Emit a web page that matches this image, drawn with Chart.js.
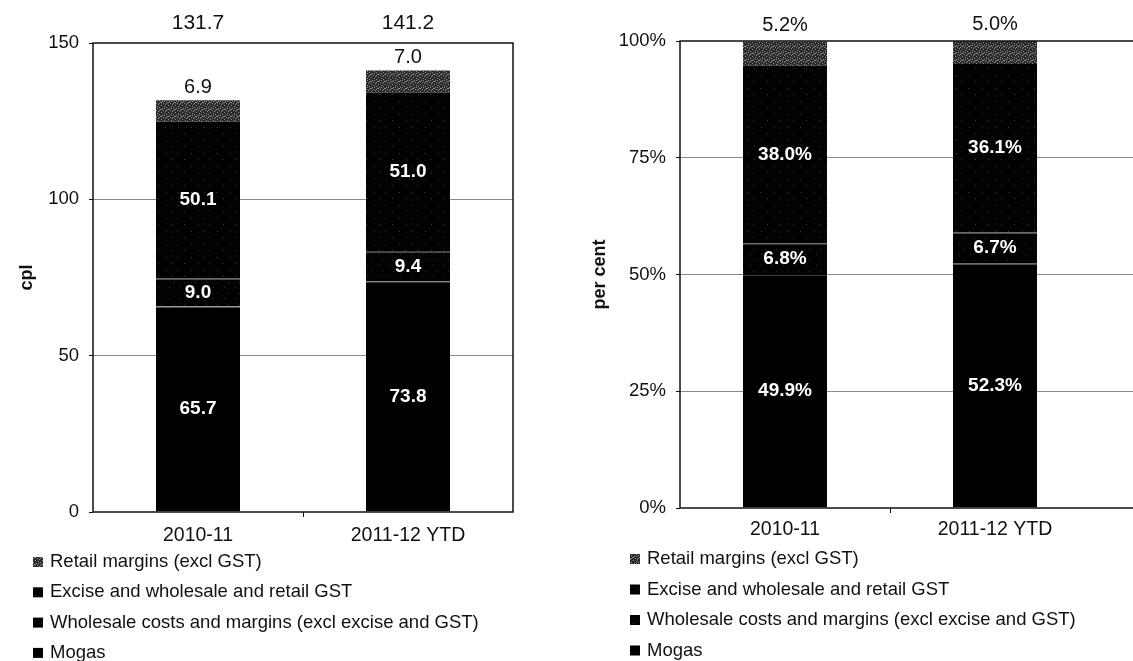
<!DOCTYPE html>
<html>
<head>
<meta charset="utf-8">
<script src="https://cdn.jsdelivr.net/npm/chart.js@4.4.1/dist/chart.umd.min.js"></script>
<style>
  html, body { margin: 0; padding: 0; background: #fff; overflow: hidden; width: 1133px; height: 661px; }
  #chart-cpl { position: absolute; left: 0; top: 0; }
  #chart-share { position: absolute; left: 570px; top: 0; }
</style>
</head>
<body>
<canvas id="chart-cpl" width="560" height="661"></canvas>
<canvas id="chart-share" width="760" height="661"></canvas>
<script>
const years = ["2010-11", "2011-12 YTD"];

// cents per litre, bottom of the stack first
const mogasCpl = [65.7, 73.8];
const wholesaleCpl = [9.0, 9.4];
const exciseCpl = [50.1, 51.0];
const retailCpl = [6.9, 7.0];

// share of the pump price, per cent
const mogasPct = [49.9, 52.3];
const wholesalePct = [6.8, 6.7];
const excisePct = [38.0, 36.1];
const retailPct = [5.2, 5.0];

const cplTicks = [0, 50, 100, 150];
const pctTicks = [0, 25, 50, 75, 100];

const FONT = "'Liberation Sans', Arial, sans-serif";
const INK = "#111";

// scanned-print look: dark fills with a light speckle
function speckle(base, dot, size, dots) {
  const c = document.createElement("canvas");
  c.width = c.height = size;
  const g = c.getContext("2d");
  g.fillStyle = base;
  g.fillRect(0, 0, size, size);
  g.fillStyle = dot;
  for (const [x, y] of dots) g.fillRect(x, y, 1, 1);
  return g.createPattern(c, "repeat");
}

const FILL = {
  retail: speckle("#2c2c2c", "#8e8e8e", 7, [[0, 0], [3, 1], [5, 2], [1, 3], [6, 4], [2, 5], [4, 6], [5, 5], [0, 4], [3, 3]]),
  excise: speckle("#020202", "#3c3c3c", 13, [[2, 3], [9, 10]]),
  wholesale: speckle("#020202", "#303030", 11, [[4, 1], [8, 7]]),
  mogas: "#000",
};

// values printed on each segment, plus optional stack totals above the plot
const segLabels = {
  id: "segLabels",
  afterDatasetsDraw(chart, args, opts) {
    const ctx = chart.ctx;
    const sets = chart.data.datasets;
    ctx.save();
    ctx.textAlign = "center";
    ctx.textBaseline = "middle";
    sets.forEach((ds, i) => {
      chart.getDatasetMeta(i).data.forEach((bar, j) => {
        const text = ds.data[j].toFixed(1) + opts.suffix;
        if (i === sets.length - 1) {
          ctx.font = "20px " + FONT;
          ctx.fillStyle = INK;
          ctx.fillText(text, bar.x, bar.y - opts.topGap);
        } else {
          ctx.font = "bold 19px " + FONT;
          ctx.fillStyle = "#fff";
          ctx.fillText(text, bar.x, (bar.y + bar.base) / 2);
        }
      });
    });
    if (opts.totals) {
      years.forEach((y, j) => {
        const sum = sets.reduce((s, ds) => s + ds.data[j], 0);
        const x = chart.getDatasetMeta(0).data[j].x;
        ctx.font = "21px " + FONT;
        ctx.fillStyle = INK;
        ctx.fillText(sum.toFixed(1), x, chart.chartArea.top - 20);
      });
    }
    ctx.restore();
  },
};

// box round the plot area
const plotFrame = {
  id: "plotFrame",
  afterDatasetsDraw(chart) {
    const { ctx, chartArea: a } = chart;
    ctx.save();
    ctx.strokeStyle = INK;
    ctx.lineWidth = 1.5;
    ctx.strokeRect(a.left, a.top, a.right - a.left, a.bottom - a.top);
    ctx.restore();
  },
};

// one legend entry per row under the axis, top of the stack first
const stackLegend = {
  id: "stackLegend",
  afterDraw(chart, args, opts) {
    const ctx = chart.ctx;
    const sets = chart.data.datasets.slice().reverse();
    ctx.save();
    ctx.font = "18.5px " + FONT;
    ctx.textBaseline = "middle";
    sets.forEach((ds, i) => {
      const y = chart.chartArea.bottom + opts.top + i * opts.step;
      ctx.fillStyle = ds.backgroundColor;
      ctx.fillRect(opts.x, y - 5, 10, 10);
      ctx.fillStyle = INK;
      ctx.fillText(ds.label, opts.x + 17, y);
    });
    ctx.restore();
  },
};

function datasets(mogas, wholesale, excise, retail) {
  const seam = { top: 1, left: 0, right: 0, bottom: 0 };
  return [
    { label: "Mogas", data: mogas, backgroundColor: FILL.mogas, borderColor: "#3a3a3a", borderWidth: seam },
    { label: "Wholesale costs and margins (excl excise and GST)", data: wholesale, backgroundColor: FILL.wholesale, borderColor: "#333", borderWidth: seam },
    { label: "Excise and wholesale and retail GST", data: excise, backgroundColor: FILL.excise, borderWidth: 0 },
    { label: "Retail margins (excl GST)", data: retail, backgroundColor: FILL.retail, borderWidth: 0 },
  ].map((d) => ({ ...d, barPercentage: 0.4, categoryPercentage: 1 }));
}

function stackChart(id, cfg) {
  const lo = cfg.ticks[0];
  const hi = cfg.ticks[cfg.ticks.length - 1];
  return new Chart(document.getElementById(id), {
    type: "bar",
    data: { labels: cfg.labels, datasets: cfg.sets },
    options: {
      responsive: false,
      animation: false,
      layout: { padding: cfg.padding },
      plugins: {
        legend: { display: false },
        tooltip: { enabled: false },
        segLabels: { suffix: cfg.suffix, topGap: cfg.topGap, totals: cfg.totals },
        stackLegend: cfg.legend,
      },
      scales: {
        x: {
          stacked: true,
          afterFit: (s) => { s.height = 45; },
          border: { display: false },
          grid: {
            drawOnChartArea: false,
            tickLength: 5,
            tickColor: (c) => (c.index === 1 ? INK : "transparent"),
          },
          ticks: { color: INK, padding: cfg.xPad, maxRotation: 0, font: { size: 19.5, family: FONT } },
        },
        y: {
          stacked: true,
          min: lo,
          max: hi,
          afterBuildTicks: (s) => { s.ticks = cfg.ticks.map((v) => ({ value: v })); },
          afterFit: (s) => { s.width = cfg.axisWidth; },
          border: { display: false },
          grid: {
            color: (c) => (c.tick && (c.tick.value === lo || c.tick.value === hi) ? "transparent" : "#8a8a8a"),
            lineWidth: 1,
            tickLength: 4,
            tickColor: INK,
          },
          ticks: { color: INK, padding: 10, font: { size: 18.5, family: FONT }, callback: (v) => v + cfg.suffix },
          title: {
            display: true,
            text: cfg.title,
            color: INK,
            font: { size: 18, weight: "bold", family: FONT },
            padding: { top: cfg.titlePad, bottom: 0 },
          },
        },
      },
    },
    plugins: [plotFrame, segLabels, stackLegend],
  });
}

stackChart("chart-cpl", {
  labels: years,
  sets: datasets(mogasCpl, wholesaleCpl, exciseCpl, retailCpl),
  ticks: cplTicks,
  suffix: "",
  title: "cpl",
  titlePad: 16,
  axisWidth: 93,
  xPad: 7,
  topGap: 13,
  totals: true,
  padding: { top: 43, right: 47, bottom: 104, left: 0 },
  legend: { x: 33, top: 50, step: 30.3 },
});

// the plot runs on past the page edge, so a blank third slot keeps the bars spaced
stackChart("chart-share", {
  labels: [...years, ""],
  sets: datasets(mogasPct, wholesalePct, excisePct, retailPct),
  ticks: pctTicks,
  suffix: "%",
  title: "per cent",
  titlePad: 19,
  axisWidth: 110,
  xPad: 5,
  topGap: 16,
  totals: false,
  padding: { top: 41, right: 20, bottom: 108, left: 0 },
  legend: { x: 60, top: 51, step: 30.5 },
});
</script>
</body>
</html>
